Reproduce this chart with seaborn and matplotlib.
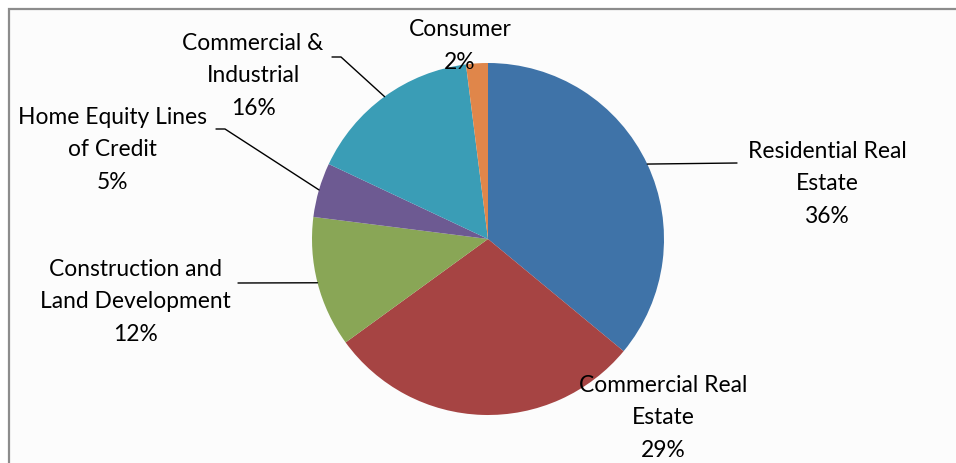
import numpy as np
import matplotlib
matplotlib.use("Agg")
import matplotlib.pyplot as plt
import seaborn as sns
from matplotlib.patches import Rectangle

categories = ["Residential Real Estate", "Commercial Real Estate",
              "Construction and Land Development", "Home Equity Lines of Credit",
              "Commercial & Industrial", "Consumer"]
shares = [36, 29, 12, 5, 16, 2]
label_texts = ["Residential Real\nEstate\n36%", "Commercial Real\nEstate\n29%",
               "Construction and\nLand Development\n12%", "Home Equity Lines\nof Credit\n5%",
               "Commercial &\nIndustrial\n16%", "Consumer\n2%"]
colors = ["#3f73a8", "#a64443", "#89a656", "#6d5a92", "#3a9db6", "#e0864a"]

sns.set_theme(style="white")
plt.rcParams['font.family'] = ['Lato', 'DejaVu Sans']

W, H = 956, 464
fig = plt.figure(figsize=(W / 100, H / 100), dpi=100)
fig.patch.set_facecolor("white")
ax = fig.add_axes([0, 0, 1, 1])

# chart area frame
ax.add_patch(Rectangle((8.5, 10), W, H, facecolor="#fcfcfc", edgecolor="#8c8c8c",
                       linewidth=1.6, zorder=0))

cx, cy, r = 488, 240, 176
# y axis inverted -> counterclock=True in data space is clockwise on screen
wedges, _ = ax.pie(shares, colors=colors, startangle=-90, counterclock=True,
                   center=(cx, cy), radius=r, frame=True,
                   wedgeprops=dict(linewidth=0))
ax.set_xlim(0, W)
ax.set_ylim(H, 0)
ax.set_aspect("equal")
ax.axis("off")

# label layout (centre of each text block)
label_pos = [(827, 184), (663, 418), (135, 302), (112, 150), (253, 76), (460, 46)]
# leader-line anchor near the label (None = no leader)
leader_anchor = [[(737, 164)], None, [(238, 284)], [(216, 130), (225, 130)],
                 [(332, 58), (341, 58)], None]

for w, txt, pos, anc in zip(wedges, label_texts, label_pos, leader_anchor):
    ax.text(pos[0], pos[1], txt, ha="center", va="center", fontsize=16.4,
            color="black", linespacing=1.66, zorder=5)
    if anc is not None:
        mid = np.deg2rad((w.theta1 + w.theta2) / 2)
        px, py = cx + r * np.cos(mid), cy + r * np.sin(mid)
        xs = [a[0] for a in anc] + [px]
        ys = [a[1] for a in anc] + [py]
        ax.plot(xs, ys, color="black", linewidth=1.0, zorder=4)

fig.savefig("out.png", dpi=100, facecolor="white")
